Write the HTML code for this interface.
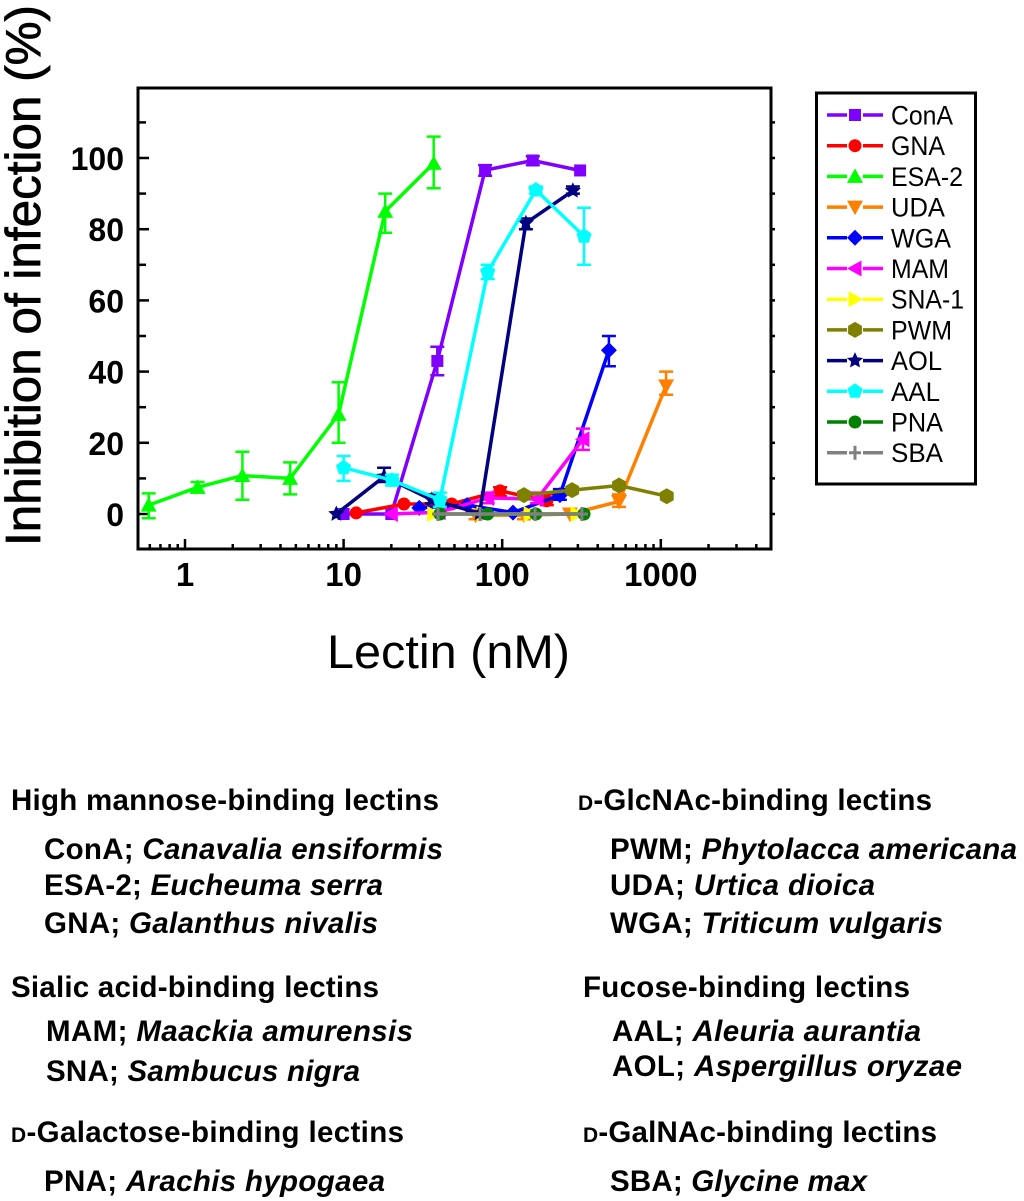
<!DOCTYPE html>
<html>
<head>
<meta charset="utf-8">
<title>Inhibition of infection by lectins</title>
<style>
html,body{margin:0;padding:0;background:#fff;}
svg{display:block;font-family:"Liberation Sans",Arial,sans-serif;}
.cap{font-weight:bold;font-size:29.5px;fill:#000;}
.cap tspan.i{font-style:italic;}
.cap tspan.d{font-size:21px;}
</style>
</head>
<body>
<svg id="fig" xmlns="http://www.w3.org/2000/svg" width="1024" height="1201" viewBox="0 0 1024 1201">
  <rect x="0" y="0" width="1024" height="1201" fill="#fff"/>
  <g id="axes"></g>
  <g id="series"></g>
  <rect x="138" y="88" width="633" height="461" fill="none" stroke="#000" stroke-width="3"/>
  <text transform="translate(40,546) rotate(-90)" font-size="49.5" stroke="#000" stroke-width="0.8" textLength="541" lengthAdjust="spacingAndGlyphs">Inhibition of infection (%)</text>
  <text x="327" y="668" font-size="47" textLength="243" lengthAdjust="spacingAndGlyphs">Lectin (nM)</text>
  <g id="legend">
    <rect x="816.5" y="93" width="159" height="391" fill="#fff" stroke="#000" stroke-width="3"/>
  </g>
  <g id="caption">
    <text class="cap" x="11" y="810" textLength="428">High mannose-binding lectins</text>
    <text class="cap" x="44" y="859" textLength="399">ConA; <tspan class="i">Canavalia ensiformis</tspan></text>
    <text class="cap" x="44" y="895" textLength="339">ESA-2; <tspan class="i">Eucheuma serra</tspan></text>
    <text class="cap" x="44" y="933" textLength="334">GNA; <tspan class="i">Galanthus nivalis</tspan></text>
    <text class="cap" x="11" y="997" textLength="368">Sialic acid-binding lectins</text>
    <text class="cap" x="46" y="1041" textLength="367">MAM; <tspan class="i">Maackia amurensis</tspan></text>
    <text class="cap" x="46" y="1081" textLength="314">SNA; <tspan class="i">Sambucus nigra</tspan></text>
    <text class="cap" x="11" y="1142" textLength="393"><tspan class="d">D</tspan>-Galactose-binding lectins</text>
    <text class="cap" x="44" y="1191" textLength="341">PNA; <tspan class="i">Arachis hypogaea</tspan></text>
    <text class="cap" x="578" y="810" textLength="354"><tspan class="d">D</tspan>-GlcNAc-binding lectins</text>
    <text class="cap" x="610" y="859" textLength="407">PWM; <tspan class="i">Phytolacca americana</tspan></text>
    <text class="cap" x="610" y="895" textLength="265">UDA; <tspan class="i">Urtica dioica</tspan></text>
    <text class="cap" x="610" y="933" textLength="333">WGA; <tspan class="i">Triticum vulgaris</tspan></text>
    <text class="cap" x="583" y="997" textLength="327">Fucose-binding lectins</text>
    <text class="cap" x="612" y="1041" textLength="309">AAL; <tspan class="i">Aleuria aurantia</tspan></text>
    <text class="cap" x="612" y="1076" textLength="350">AOL; <tspan class="i">Aspergillus oryzae</tspan></text>
    <text class="cap" x="583" y="1142" textLength="354"><tspan class="d">D</tspan>-GalNAc-binding lectins</text>
    <text class="cap" x="610" y="1191" textLength="257">SBA; <tspan class="i">Glycine max</tspan></text>
  </g>
</svg>
<script>
// ---- chart data (concentration in nM, inhibition in %) ----
const seriesNames = ["ConA","GNA","ESA-2","UDA","WGA","MAM","SNA-1","PWM","AOL","AAL","PNA","SBA"];
const conaX = [10,20,39,78,156,310];
const conaY = [0,0,43,96.6,99.3,96.5];
const conaLo = [null,null,39,95,98,null];
const conaHi = [null,null,47,98,100.5,null];
const gnaX = [12,24,48,97,191];
const gnaY = [0.3,2.8,2.8,6.5,3.7];
const gnaLo = [null,null,null,5,2.5];
const gnaHi = [null,null,null,7.5,5.5];
const esaX = [0.59,1.2,2.3,4.6,9.3,18.3,37];
const esaY = [2.5,7.5,10.8,10,28,85,98.5];
const esaLo = [-1.2,6,4,5.5,20,79,91.5];
const esaHi = [5.8,9,17.5,14.5,37,90,106];
const udaX = [68,137,267,545,1080];
const udaY = [-0.3,-0.3,0,3.5,36];
const udaLo = [-1.5,-1.5,null,2,33.5];
const udaHi = [null,null,null,5.5,40];
const wgaX = [30,60,117,231,471];
const wgaY = [1.7,2.5,0.4,5.3,46];
const wgaLo = [null,null,null,4,41.5];
const wgaHi = [null,null,null,7,50];
const mamX = [20,40,81,166,323];
const mamY = [0,0.5,4.5,4.2,21];
const mamLo = [null,null,3,3,18];
const mamHi = [null,null,6,6,24];
const snaX = [37,75.7,150,296];
const snaY = [0,0,0,0];
const snaLo = [null,null,null,null];
const snaHi = [null,null,null,null];
const pwmX = [137,276,545,1090];
const pwmY = [5.3,6.7,8,5];
const pwmLo = [null,null,null,null];
const pwmHi = [null,null,null,null];
const aolX = [9,18,36,72,141,279];
const aolY = [0,10.5,4,0.2,81.7,90.8];
const aolLo = [null,9,3,null,80,90];
const aolHi = [null,13,5.5,null,83,92];
const aalX = [10,20.2,40.5,81,163,328];
const aalY = [13,9.5,4,68,91,78];
const aalLo = [9.3,8,2,66,90,70];
const aalHi = [16.3,11,6,70,92,86];
const pnaX = [40.5,81,163,328];
const pnaY = [0,0,0,0];
const pnaLo = [null,null,null,null];
const pnaHi = [null,null,null,null];
const sbaX = [39.4,72.5,161,318];
const sbaY = [0,0,0,0];
const sbaLo = [null,null,null,null];
const sbaHi = [null,null,null,null];
const yTickLabels = [0,20,40,60,80,100];
const xTickLabels = [1,10,100,1000];

// ---- axis functions ----
const NS = "http://www.w3.org/2000/svg";
function xPos(v){ return 185 + 158.6 * Math.log10(v); }
function yPos(v){ return 514 - 3.56 * v; }
function make(tag, attrs, parent){
  const el = document.createElementNS(NS, tag);
  for (const k in attrs) el.setAttribute(k, attrs[k]);
  parent.appendChild(el);
  return el;
}

// ---- marker shapes ----
function regular(cx, cy, r, n, rot){
  const p = [];
  for (let i = 0; i < n; i++){
    const a = rot + i * 2 * Math.PI / n;
    p.push((cx + r * Math.cos(a)).toFixed(1) + "," + (cy + r * Math.sin(a)).toFixed(1));
  }
  return p.join(" ");
}
function star(cx, cy, R, r){
  const p = [];
  for (let i = 0; i < 10; i++){
    const a = -Math.PI / 2 + i * Math.PI / 5;
    const q = i % 2 ? r : R;
    p.push((cx + q * Math.cos(a)).toFixed(1) + "," + (cy + q * Math.sin(a)).toFixed(1));
  }
  return p.join(" ");
}
function drawMarker(kind, cx, cy, color, parent){
  let m;
  if (kind === "square") m = make("rect", {x:cx-6, y:cy-6, width:12, height:12, fill:color}, parent);
  else if (kind === "circle") m = make("circle", {cx:cx, cy:cy, r:6.5, fill:color}, parent);
  else if (kind === "up") m = make("polygon", {points:(cx-8)+","+(cy+6.5)+" "+(cx+8)+","+(cy+6.5)+" "+cx+","+(cy-8), fill:color}, parent);
  else if (kind === "down") m = make("polygon", {points:(cx-8)+","+(cy-6.5)+" "+(cx+8)+","+(cy-6.5)+" "+cx+","+(cy+8), fill:color}, parent);
  else if (kind === "diamond") m = make("polygon", {points:regular(cx,cy,8,4,0), fill:color}, parent);
  else if (kind === "left") m = make("polygon", {points:(cx+6.5)+","+(cy-8)+" "+(cx+6.5)+","+(cy+8)+" "+(cx-8)+","+cy, fill:color}, parent);
  else if (kind === "right") m = make("polygon", {points:(cx-6.5)+","+(cy-8)+" "+(cx-6.5)+","+(cy+8)+" "+(cx+8)+","+cy, fill:color}, parent);
  else if (kind === "hexagon") m = make("polygon", {points:regular(cx,cy,8,6,Math.PI/2), fill:color}, parent);
  else if (kind === "star") m = make("polygon", {points:star(cx,cy,8.5,4), fill:color}, parent);
  else if (kind === "pentagon") m = make("polygon", {points:regular(cx,cy,8,5,-Math.PI/2), fill:color}, parent);
  else {
    m = make("path", {d:"M"+(cx-6)+" "+cy+"H"+(cx+6)+"M"+cx+" "+(cy-7)+"V"+(cy+7), stroke:color, "stroke-width":3, fill:"none"}, parent);
  }
  return m;
}

// ---- axes ----
const axes = document.getElementById("axes");
for (let v = 0; v <= 110; v += 10){
  const major = v % 20 === 0;
  const y = yPos(v);
  const t = make("line", {x1:138, x2:major ? 149 : 146, y1:y, y2:y, stroke:"#000", "stroke-width":2.5}, axes);
  
  
  const r = make("line", {x1:771, x2:775, y1:y, y2:y, stroke:"#000", "stroke-width":2.5}, axes);
  
  
}
yTickLabels.forEach(function(v){
  const t = make("text", {x:124, y:yPos(v)+12, "text-anchor":"end", "font-size":32, "font-weight":"bold"}, axes);
  t.textContent = v;
  
  
});
[0.1,1,10,100,1000].forEach(function(dec){
  for (let k = 1; k < 10; k++){
    const v = dec * k;
    if (v < 0.55 || v > 4900) continue;
    const x = xPos(v);
    const t = make("line", {x1:x, x2:x, y1:549, y2:k === 1 ? 539 : 544, stroke:"#000", "stroke-width":2.5}, axes);
    
    
  }
});
xTickLabels.forEach(function(v){
  const t = make("text", {x:xPos(v), y:586, "text-anchor":"middle", "font-size":33, "font-weight":"bold"}, axes);
  t.textContent = v;
  
  
});

// ---- series ----
const seriesColors = ["#7f00ff","#ff0000","#00ff00","#ff8000","#0000ff","#ff00ff","#ffff00","#808000","#000080","#00ffff","#008000","#808080"];
const seriesMarkers = ["square","circle","up","down","diamond","left","right","hexagon","star","pentagon","circle","plus"];
const seriesData = [
  [conaX,conaY,conaLo,conaHi],[gnaX,gnaY,gnaLo,gnaHi],[esaX,esaY,esaLo,esaHi],[udaX,udaY,udaLo,udaHi],
  [wgaX,wgaY,wgaLo,wgaHi],[mamX,mamY,mamLo,mamHi],[snaX,snaY,snaLo,snaHi],[pwmX,pwmY,pwmLo,pwmHi],
  [aolX,aolY,aolLo,aolHi],[aalX,aalY,aalLo,aalHi],[pnaX,pnaY,pnaLo,pnaHi],[sbaX,sbaY,sbaLo,sbaHi]
];
const seriesRoot = document.getElementById("series");
seriesData.forEach(function(d, i){
  const xs = d[0], ys = d[1], lo = d[2], hi = d[3], color = seriesColors[i];
  const g = make("g", {}, seriesRoot);
  
  
  const pts = xs.map(function(x, j){ return xPos(x).toFixed(1) + "," + yPos(ys[j]).toFixed(1); }).join(" ");
  const line = make("polyline", {points:pts, fill:"none", stroke:color, "stroke-width":3.5, "stroke-linejoin":"round"}, g);
  
  
  xs.forEach(function(x, j){
    const px = xPos(x);
    if (lo[j] !== null || hi[j] !== null){
      const yl = yPos(lo[j] !== null ? lo[j] : ys[j]);
      const yh = yPos(hi[j] !== null ? hi[j] : ys[j]);
      let dstr = "M" + px.toFixed(1) + " " + yl.toFixed(1) + "V" + yh.toFixed(1);
      if (lo[j] !== null) dstr += "M" + (px-7).toFixed(1) + " " + yl.toFixed(1) + "h14";
      if (hi[j] !== null) dstr += "M" + (px-7).toFixed(1) + " " + yh.toFixed(1) + "h14";
      const eb = make("path", {d:dstr, fill:"none", stroke:color, "stroke-width":2.5}, g);
      
      
    }
    const m = drawMarker(seriesMarkers[i], px, yPos(ys[j]), color, g);
    
    
  });
});

// ---- legend ----
const legendRoot = document.getElementById("legend");
const legendLengths = [62,54,72,54,60,58,73,61,51,49,52,52];
seriesNames.forEach(function(name, i){
  const y = 115 + i * 30.7;
  const g = make("g", {}, legendRoot);
  
  
  make("path", {d:"M827 "+y+"H847M863 "+y+"H883", stroke:seriesColors[i], "stroke-width":3.5, fill:"none"}, g);
  drawMarker(seriesMarkers[i], 855, y, seriesColors[i], g);
  const t = make("text", {x:891, y:y+9.5, "font-size":27, textLength:legendLengths[i], lengthAdjust:"spacingAndGlyphs"}, g);
  t.textContent = name;
  
  
});
</script>
</body>
</html>
